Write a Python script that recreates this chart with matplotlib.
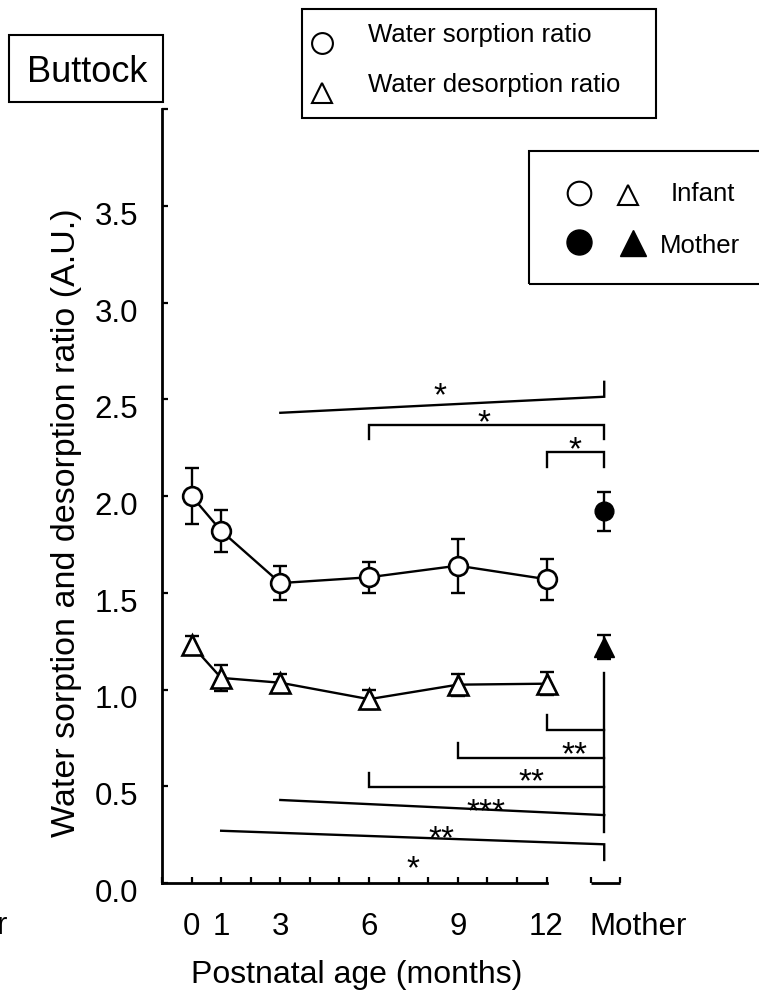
import matplotlib
matplotlib.use('Agg')
import matplotlib.pyplot as plt
from matplotlib.lines import Line2D
from matplotlib.patches import Rectangle
from matplotlib.transforms import ScaledTranslation

plt.rcParams['font.family'] = ['Liberation Sans', 'DejaVu Sans']

# ---------------- data ----------------
months = [0, 1, 3, 6, 9, 12]
month_tick_labels = ['0', '1', '3', '6', '9', '12']
mother_label = 'Mother'

sorption_mean = [2.00, 1.82, 1.55, 1.58, 1.64, 1.57]
sorption_sem = [0.145, 0.11, 0.087, 0.08, 0.14, 0.105]
desorption_mean = [1.23, 1.06, 1.035, 0.95, 1.025, 1.03]
desorption_sem = [0.045, 0.066, 0.045, 0.05, 0.057, 0.058]

mother_sorption_mean = [1.92]
mother_sorption_sem = [0.10]
mother_desorption_mean = [1.22]
mother_desorption_sem = [0.064]

y_ticks = [0.0, 0.5, 1.0, 1.5, 2.0, 2.5, 3.0, 3.5, 4.0]
y_tick_labels = ['0.0', '0.5', '1.0', '1.5', '2.0', '2.5', '3.0', '3.5', '']

# significance annotations (sorption: above, desorption: below)
sig_upper = [
    dict(start=3, y0=2.43, y1=2.513, leg0=None, leg1=2.59, label='*', lx=8.4, ly=2.57),
    dict(start=6, y0=2.365, y1=2.365, leg0=2.293, leg1=2.293, label='*', lx=9.9, ly=2.427),
    dict(start=12, y0=2.227, y1=2.227, leg0=2.151, leg1=2.151, label='*', lx=12.95, ly=2.29),
]
sig_lower = [
    dict(start=12, y0=0.791, y1=0.791, leg0=0.868, leg1=None, label='**', lx=12.95, ly=0.713),
    dict(start=9, y0=0.648, y1=0.648, leg0=0.724, leg1=None, label='**', lx=11.48, ly=0.575),
    dict(start=6, y0=0.495, y1=0.495, leg0=0.570, leg1=None, label='***', lx=9.94, ly=0.42),
    dict(start=3, y0=0.429, y1=0.351, leg0=None, leg1=None, label='**', lx=8.46, ly=0.277),
    dict(start=1, y0=0.270, y1=0.200, leg0=None, leg1=0.119, label='*', lx=7.48, ly=0.124),
]
mother_stem = (1.087, 0.265)

# ---------------- layout ----------------
W, H = 759, 994
fig = plt.figure(figsize=(W / 100, H / 100), dpi=100)


def fx(px):
    return px / W


def fy(py):
    return 1 - py / H


ax_left, ax_bottom, ax_top = 162, 883, 109
ax = fig.add_axes([fx(ax_left), fy(ax_bottom), 1 - fx(ax_left), fy(ax_top) - fy(ax_bottom)])
px_per_month = 29.58
x_min = -1
x_max = x_min + (W - ax_left) / px_per_month
ax.set_xlim(x_min, x_max)
ax.set_ylim(0, 4)

mother_pos = 13.95
mother_label_pos = 15.08

LW = 1.7
for s in ['top', 'right']:
    ax.spines[s].set_visible(False)
ax.spines['left'].set_linewidth(2)
ax.spines['bottom'].set_linewidth(2)
ax.spines['bottom'].set_bounds(-1, 12)
ax.plot([13.5, 14.5], [0, 0], color='k', lw=2, clip_on=False, solid_capstyle='butt')

TICK_FS = 22.5
# ticks
ax.set_yticks(y_ticks, y_tick_labels)
ax.tick_params(axis='y', direction='in', length=4.5, width=1.6, pad=17, labelsize=TICK_FS)
for lab in ax.get_yticklabels():
    lab.set_transform(lab.get_transform() + ScaledTranslation(0, -7.5 / 100, fig.dpi_scale_trans))

ax.set_xticks(months + [mother_label_pos], month_tick_labels + [mother_label])
ax.set_xticks(list(range(-1, 13)) + [13.5, 14.5], minor=True)
ax.xaxis.remove_overlapping_locs = False
ax.tick_params(axis='x', which='major', length=0, pad=21, labelsize=TICK_FS)
ax.tick_params(axis='x', which='minor', direction='in', length=4.5, width=1.6)

# ---------------- data marks ----------------
ms_c, ms_t = 13.5, 15
for xs_, m_, e_ in [(months, sorption_mean, sorption_sem),
                    (months, desorption_mean, desorption_sem),
                    ([mother_pos], mother_sorption_mean, mother_sorption_sem),
                    ([mother_pos], mother_desorption_mean, mother_desorption_sem)]:
    ax.errorbar(xs_, m_, yerr=e_, fmt='none', ecolor='k',
                elinewidth=LW, capsize=4.8, capthick=LW, zorder=2)

ax.plot(months, sorption_mean, '-o', color='k', lw=LW, ms=ms_c, mfc='white', mec='k', mew=1.9, zorder=3)
ax.plot(months, desorption_mean, '-^', color='k', lw=LW, ms=ms_t, mfc='white', mec='k', mew=1.9, zorder=3)
ax.plot([mother_pos], mother_sorption_mean, 'o', ms=ms_c, mfc='k', mec='k', zorder=3)
ax.plot([mother_pos], mother_desorption_mean, '^', ms=ms_t, mfc='k', mec='k', zorder=3)

# ---------------- significance ----------------
STAR_FS = 24
star_shift = ScaledTranslation(0, -0.575 * STAR_FS / 72, fig.dpi_scale_trans)
for b in sig_upper + sig_lower:
    xs, ys = [], []
    if b['leg0'] is not None:
        xs.append(b['start']); ys.append(b['leg0'])
    xs += [b['start'], mother_pos]
    ys += [b['y0'], b['y1']]
    if b['leg1'] is not None:
        xs.append(mother_pos); ys.append(b['leg1'])
    ax.plot(xs, ys, color='k', lw=LW, clip_on=False, solid_joinstyle='miter')
    ax.text(b['lx'], b['ly'], b['label'], ha='center', va='baseline', fontsize=STAR_FS,
            transform=ax.transData + star_shift)
ax.plot([mother_pos, mother_pos], list(mother_stem), color='k', lw=LW)

# ---------------- axis labels ----------------
ax.set_xlabel('Postnatal age (months)', fontsize=23)
ax.xaxis.set_label_coords((357 - ax_left) / (W - ax_left), -(983 - ax_bottom) / (ax_bottom - ax_top))
ax.xaxis.label.set_va('baseline')
ax.set_ylabel('Water sorption and desorption ratio (A.U.)', fontsize=24.5)
ax.yaxis.set_label_coords((82 - ax_left) / (W - ax_left), 0.466)

# cut-off neighbour label at left edge
fig.text(fx(8), fy(934), 'Mother', ha='right', va='baseline', fontsize=TICK_FS)

# ---------------- panel title ----------------
fig.patches.append(Rectangle((fx(9), fy(102)), fx(163) - fx(9), fy(35) - fy(102),
                             transform=fig.transFigure, fill=False, ec='k', lw=1.5))
fig.text(fx(87), fy(82), 'Buttock', ha='center', va='baseline', fontsize=26)

# ---------------- top legend ----------------
fig.patches.append(Rectangle((fx(302), fy(118)), fx(656) - fx(302), fy(9) - fy(118),
                             transform=fig.transFigure, fill=False, ec='k', lw=1.5))
fig.add_artist(Line2D([fx(322)], [fy(43)], transform=fig.transFigure, marker='o', ms=15,
                      mfc='white', mec='k', mew=1.5, ls='none'))
fig.add_artist(Line2D([fx(322)], [fy(93)], transform=fig.transFigure, marker='^', ms=15,
                      mfc='white', mec='k', mew=1.5, ls='none'))
fig.text(fx(368), fy(42), 'Water sorption ratio', ha='left', va='baseline', fontsize=18.5)
fig.text(fx(368), fy(92), 'Water desorption ratio', ha='left', va='baseline', fontsize=18.5)

# ---------------- right legend ----------------
fig.patches.append(Rectangle((fx(529), fy(284)), fx(820) - fx(529), fy(151) - fy(284),
                             transform=fig.transFigure, fill=False, ec='k', lw=1.5))
fig.add_artist(Line2D([fx(579)], [fy(193)], transform=fig.transFigure, marker='o', ms=17,
                      mfc='white', mec='k', mew=1.5, ls='none'))
fig.add_artist(Line2D([fx(628)], [fy(195)], transform=fig.transFigure, marker='^', ms=14,
                      mfc='white', mec='k', mew=1.5, ls='none'))
fig.add_artist(Line2D([fx(579)], [fy(242)], transform=fig.transFigure, marker='o', ms=18,
                      mfc='k', mec='k', ls='none'))
fig.add_artist(Line2D([fx(633)], [fy(243)], transform=fig.transFigure, marker='^', ms=19,
                      mfc='k', mec='k', ls='none'))
fig.text(fx(703), fy(201), 'Infant', ha='center', va='baseline', fontsize=18.5)
fig.text(fx(700), fy(253), 'Mother', ha='center', va='baseline', fontsize=18.5)

fig.savefig('out.png', dpi=100)
